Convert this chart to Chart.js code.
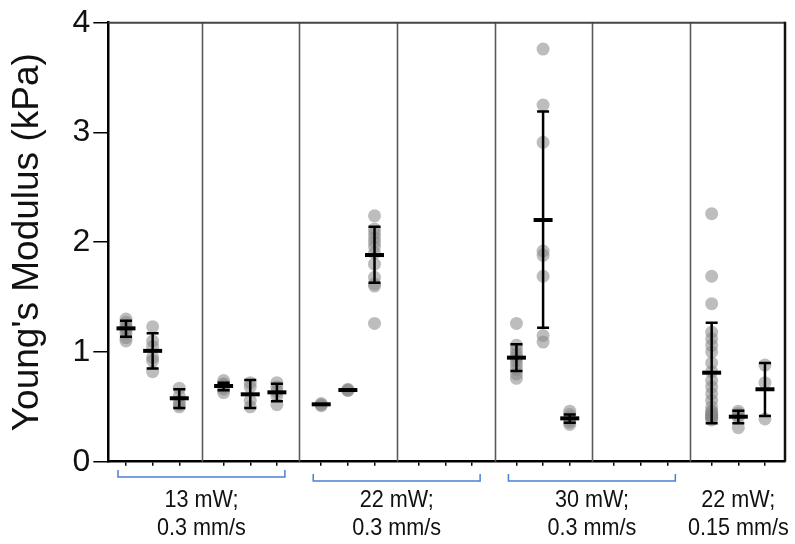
<!DOCTYPE html>
<html><head><meta charset="utf-8">
<script src="https://cdn.jsdelivr.net/npm/chart.js@4"></script>
<style>html,body{margin:0;padding:0;background:#fff}#wrap{width:795px;height:544px}</style>
</head><body><div id="wrap"><canvas id="c"></canvas></div>
<script>
// ---- DATA ----
const groupLabels = [["13 mW;", "0.3 mm/s"], ["22 mW;", "0.3 mm/s"], ["30 mW;", "0.3 mm/s"], ["22 mW;", "0.15 mm/s"]];
const yTicks = [0, 1, 2, 3, 4];
// individual measurements per column (7 panels x 3 columns)
const values = [
  [1.30, 1.27, 1.24, 1.22, 1.20, 1.17, 1.13, 1.10],
  [1.23, 1.10, 1.05, 0.95, 0.92, 0.82],
  [0.67, 0.60, 0.55, 0.52, 0.50],
  [0.74, 0.71, 0.70, 0.68, 0.66, 0.63],
  [0.72, 0.68, 0.56, 0.50],
  [0.72, 0.68, 0.64, 0.60, 0.52],
  [0.53, 0.52, 0.51],
  [0.66, 0.65, 0.65],
  [2.24, 2.12, 2.08, 2.04, 2.00, 1.96, 1.90, 1.80, 1.68, 1.62, 1.60, 1.26],
  [], [], [],
  [1.26, 1.06, 1.02, 0.98, 0.95, 0.92, 0.88, 0.84, 0.80, 0.76],
  [3.76, 3.25, 2.91, 1.92, 1.88, 1.69, 1.15, 1.09],
  [0.46, 0.43, 0.40, 0.38, 0.36, 0.34],
  [], [], [],
  [2.26, 1.69, 1.44, 1.18, 1.12, 1.06, 1.00, 0.90, 0.82, 0.74, 0.68, 0.62, 0.56, 0.50, 0.46, 0.45, 0.43, 0.42, 0.41, 0.40, 0.40, 0.38],
  [0.46, 0.44, 0.42, 0.40, 0.31],
  [0.88, 0.72, 0.39]
];
const means   = [1.215, 1.01, 0.578, 0.69, 0.614, 0.632, 0.523, 0.653, 1.883, null, null, null, 0.948, 2.202, 0.395, null, null, null, 0.811, 0.41, 0.66];
const errHigh = [1.285, 1.17, 0.66, 0.72, 0.745, 0.71, null, null, 2.14, null, null, null, 1.07, 3.19, 0.43, null, null, null, 1.267, 0.465, 0.90];
const errLow  = [1.139, 0.85, 0.49, 0.65, 0.49, 0.55, null, null, 1.63, null, null, null, 0.826, 1.22, 0.355, null, null, null, 0.35, 0.35, 0.416];
// brackets span panels [first,last]
const bracketPanels = [[0, 1], [2, 3], [4, 5], [6, 6]];

// ---- LAYOUT (positions on a linear x scale) ----
const G = 3.663;                 // panel pitch in column units
const colX = i => Math.floor(i / 3) * G + (i % 3);
const panelLines = [0, 1, 2, 3, 4, 5].map(g => g * G + 2.84);
const FONT = "'Liberation Sans', Arial, sans-serif";

const pts = [];
values.forEach((arr, i) => arr.forEach(v => pts.push({ x: colX(i), y: v })));

const decor = {
  id: 'decor',
  beforeDatasetsDraw(chart) {
    const { ctx, chartArea: a, scales: { x, y } } = chart;
    ctx.save();
    ctx.strokeStyle = '#5a5a5a'; ctx.lineWidth = 1.6;
    panelLines.forEach(v => {
      const px = Math.round(x.getPixelForValue(v)) + 0.5;
      ctx.beginPath(); ctx.moveTo(px, a.top); ctx.lineTo(px, a.bottom); ctx.stroke();
    });
    ctx.strokeStyle = '#444'; ctx.lineWidth = 2;
    ctx.beginPath(); ctx.moveTo(a.left, a.top); ctx.lineTo(a.right, a.top); ctx.stroke();
    ctx.strokeStyle = '#111'; ctx.lineWidth = 2.5;
    ctx.beginPath(); ctx.moveTo(a.right, a.top - 1); ctx.lineTo(a.right, a.bottom); ctx.stroke();
    ctx.restore();
  },
  afterDatasetsDraw(chart) {
    const { ctx, scales: { x, y } } = chart;
    ctx.save();
    ctx.strokeStyle = '#000';
    means.forEach((m, i) => {
      if (m == null) return;
      const px = x.getPixelForValue(colX(i));
      if (errHigh[i] != null) {
        const yt = y.getPixelForValue(errHigh[i]), yb = y.getPixelForValue(errLow[i]);
        ctx.lineWidth = 2.5;
        ctx.beginPath(); ctx.moveTo(px, yt); ctx.lineTo(px, yb);
        ctx.moveTo(px - 6, yt); ctx.lineTo(px + 6, yt);
        ctx.moveTo(px - 6, yb); ctx.lineTo(px + 6, yb);
        ctx.stroke();
      }
      const pm = y.getPixelForValue(m);
      ctx.lineWidth = 4;
      ctx.beginPath(); ctx.moveTo(px - 9.5, pm); ctx.lineTo(px + 9.5, pm); ctx.stroke();
    });
    ctx.restore();
  },
  afterDraw(chart) {
    const { ctx, scales: { x } } = chart;
    ctx.save();
    bracketPanels.forEach(([p0, p1], k) => {
      const xl = x.getPixelForValue(colX(p0 * 3) - 0.3);
      const xr = x.getPixelForValue(colX(p1 * 3 + 2) + 0.3);
      if (p0 !== p1) {
        const by = k === 0 ? 477 : 481;
        ctx.strokeStyle = '#4a7fd6'; ctx.lineWidth = 1.5;
        ctx.beginPath(); ctx.moveTo(xl, by - 7); ctx.lineTo(xl, by); ctx.lineTo(xr, by); ctx.lineTo(xr, by - 7); ctx.stroke();
      }
      const cx = (xl + xr) / 2;
      ctx.save();
      ctx.translate(cx, 0);
      ctx.scale(0.9, 1);
      ctx.fillStyle = '#111'; ctx.textAlign = 'center'; ctx.textBaseline = 'alphabetic';
      ctx.font = '24px ' + FONT;
      ctx.fillText(groupLabels[k][0], 0, 507);
      ctx.fillText(groupLabels[k][1], 0, 535);
      ctx.restore();
    });
    ctx.restore();
  }
};

new Chart(document.getElementById('c'), {
  type: 'scatter',
  data: {
    datasets: [{
      data: pts,
      backgroundColor: 'rgba(135,135,135,0.55)',
      borderWidth: 0,
      pointRadius: 6.5,
      pointHoverRadius: 6.5
    }]
  },
  options: {
    responsive: true, maintainAspectRatio: false, animation: false,
    layout: { padding: { left: 0, top: 22.7, right: 10, bottom: 0 } },
    plugins: { legend: { display: false }, tooltip: { enabled: false } },
    scales: {
      x: {
        type: 'linear', min: -0.664, max: 24.73,
        afterBuildTicks: s => { s.ticks = values.map((v, i) => ({ value: colX(i) })); },
        afterFit: s => { s.height = 82.3; },
        grid: { drawOnChartArea: false, color: '#000', lineWidth: 1.5, tickLength: 4 },
        border: { color: '#000', width: 2.5 },
        ticks: { display: true, callback: () => '', padding: 0 }
      },
      y: {
        min: 0, max: 4,
        afterBuildTicks: s => { s.ticks = yTicks.map(v => ({ value: v })); },
        afterFit: s => { s.width = 108.3; },
        grid: { drawOnChartArea: false, color: '#000', lineWidth: 1.5, tickLength: 15 },
        border: { color: '#000', width: 2.5 },
        ticks: { color: '#111', font: { family: FONT, size: 32 }, padding: 3 },
        title: { display: true, text: "Young's Modulus (kPa)", color: '#111', font: { family: FONT, size: 37 }, padding: { top: 6, bottom: 0 } }
      }
    }
  },
  plugins: [decor]
});
</script>
</body></html>
